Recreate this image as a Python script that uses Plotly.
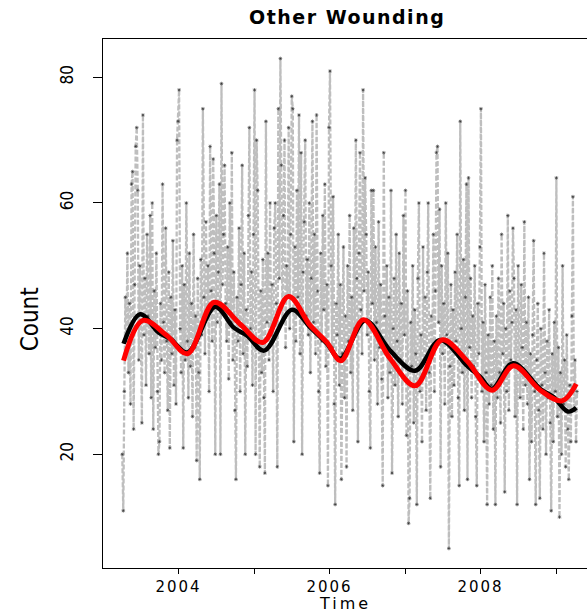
import plotly.graph_objects as go

# Daily-style count series, sampled every 5 days from early April 2003
start_year = 2003.255
days_between = 5
counts = [
    20, 11, 30, 45, 38, 52, 33, 44, 28, 63, 65, 24, 47, 69, 72, 62, 35, 50, 41, 25,
    74, 39, 48, 31, 55, 42, 36, 58, 29, 60, 24, 46, 37, 52, 30, 20, 22, 44, 35, 63,
    41, 33, 56, 38, 27, 49, 21, 45, 36, 54, 31, 43, 28, 70, 73, 78, 40, 33, 50, 21,
    47, 35, 60, 38, 29, 52, 34, 44, 26, 55, 37, 42, 19, 48, 33, 16, 51, 39, 75, 45,
    36, 57, 42, 50, 30, 69, 46, 38, 67, 52, 20, 58, 41, 49, 63, 20, 79, 47, 55, 66,
    44, 38, 53, 32, 60, 41, 68, 35, 49, 27, 16, 45, 38, 56, 30, 47, 66, 36, 52, 20,
    43, 34, 58, 72, 40, 49, 31, 55, 78, 20, 70, 62, 38, 18, 46, 33, 51, 29, 17, 73,
    41, 52, 35, 60, 39, 47, 30, 56, 60, 44, 18, 75, 48, 83, 66, 41, 58, 70, 37, 50,
    45, 72, 40, 55, 77, 75, 22, 53, 38, 62, 45, 74, 36, 68, 20, 49, 57, 70, 42, 51,
    39, 60, 33, 48, 73, 41, 55, 36, 74, 46, 30, 17, 52, 38, 58, 43, 63, 34, 47, 15,
    72, 81, 50, 37, 61, 28, 12, 44, 39, 55, 31, 47, 16, 36, 53, 29, 42, 18, 50, 38,
    58, 33, 45, 27, 56, 40, 70, 48, 22, 52, 68, 43, 36, 78, 46, 64, 55, 39, 49, 30,
    21, 62, 44, 62, 35, 53, 41, 28, 57, 37, 47, 32, 15, 68, 42, 36, 50, 29, 45, 33,
    62, 17, 40, 48, 31, 55, 38, 26, 52, 35, 44, 28, 58, 39, 62, 23, 46, 9, 13, 41,
    34, 50, 25, 43, 36, 12, 48, 60, 30, 39, 22, 53, 35, 45, 27, 49, 60, 33, 13, 42,
    37, 55, 30, 46, 68, 69, 41, 59, 18, 50, 36, 44, 28, 60, 39, 52, 5, 34, 47, 26,
    43, 31, 49, 38, 55, 29, 15, 73, 40, 33, 51, 27, 45, 63, 16, 64, 37, 48, 29, 42,
    34, 50, 26, 15, 44, 36, 53, 75, 30, 41, 22, 47, 33, 12, 39, 28, 45, 31, 50, 24,
    38, 12, 42, 29, 48, 33, 25, 55, 36, 44, 14, 40, 30, 58, 27, 46, 35, 41, 56, 48,
    26, 43, 12, 50, 34, 29, 47, 37, 24, 57, 31, 41, 28, 45, 16, 36, 22, 39, 54, 30,
    12, 35, 44, 27, 13, 40, 31, 24, 52, 33, 20, 38, 29, 43, 25, 11, 36, 22, 41, 30,
    64, 26, 37, 10, 33, 20, 50, 28, 35, 18, 39, 24, 16, 31, 22, 42, 61, 27, 35, 22, 30,
]
obs_years = [start_year + i * days_between / 365.25 for i in range(len(counts))]

# Smoothed trend (black) and fitted seasonal model (red)
trend_years = [2003.272, 2003.493, 2003.735, 2003.890, 2004.119, 2004.486, 2004.728,
               2004.906, 2005.135, 2005.502, 2005.744, 2005.966, 2006.142, 2006.473,
               2006.804, 2007.135, 2007.466, 2007.820, 2007.996, 2008.151, 2008.429,
               2008.791, 2008.967, 2009.158, 2009.268]
trend_vals = [37.6, 42.3, 39.4, 38.4, 36.2, 43.5, 40.2, 38.9, 36.5, 43.0, 40.2, 37.6,
              35.2, 41.3, 36.5, 33.3, 38.2, 34.1, 32.3, 30.4, 34.5, 30.4, 29.1, 26.8, 27.4]

fit_years = [2003.272, 2003.529, 2003.846, 2004.119, 2004.473, 2004.817, 2005.118,
             2005.457, 2005.744, 2005.966, 2006.151, 2006.450, 2006.804, 2007.135,
             2007.489, 2007.820, 2008.151, 2008.437, 2008.791, 2009.079, 2009.268]
fit_vals = [34.9, 41.3, 38.9, 36.0, 44.2, 40.7, 37.8, 45.1, 40.5, 37.8, 34.9, 41.4,
            35.2, 30.9, 38.2, 34.9, 30.2, 34.1, 30.2, 28.5, 31.2]

year_ticks = [2004, 2005, 2006, 2007, 2008, 2009]
year_labels = ["2004", "", "2006", "", "2008", ""]
count_ticks = [20, 40, 60, 80]

wide = "DejaVu Sans, Verdana, sans-serif"
narrow = "Liberation Sans Narrow, DejaVu Sans Condensed, Roboto Condensed, sans-serif"

fig = go.Figure()
fig.add_trace(go.Scatter(
    x=obs_years, y=counts, mode="lines+markers",
    line=dict(color="#bebebe", width=2.3, dash="5px,2px"),
    marker=dict(symbol="asterisk-open", size=3, color="#333333",
                line=dict(color="#333333", width=0.6)),
    hoverinfo="skip",
))
fig.add_trace(go.Scatter(
    x=trend_years, y=trend_vals, mode="lines",
    line=dict(color="black", width=4.5, shape="spline", smoothing=1.0),
))
fig.add_trace(go.Scatter(
    x=fit_years, y=fit_vals, mode="lines",
    line=dict(color="#ff0000", width=5, shape="spline", smoothing=1.0),
))

fig.update_layout(
    width=587, height=612,
    margin=dict(l=103, r=0, t=39, b=44),
    paper_bgcolor="white", plot_bgcolor="white",
    showlegend=False,
    xaxis=dict(
        range=[2003.0, 2009.41], showgrid=False, zeroline=False,
        showline=True, linecolor="black", linewidth=1.2, mirror=True,
        ticks="outside", ticklen=5, tickcolor="black", tickwidth=1.2,
        tickvals=year_ticks, ticklabelstandoff=0,
        ticktext=[f'<span style="letter-spacing:2px">{t}</span>' if t else "" for t in year_labels],
        tickfont=dict(family=wide, size=15, color="black"),
    ),
    yaxis=dict(
        range=[1.9, 86.1], showgrid=False, zeroline=False,
        showline=True, linecolor="black", linewidth=1.2,
        ticks="outside", ticklen=9, tickcolor="black", tickwidth=1.2,
        tickvals=count_ticks, tickangle=-90, ticklabelstandoff=13,
        tickfont=dict(family=narrow, size=17, color="black"),
    ),
    annotations=[
        dict(text='<b><span style="letter-spacing:1.5px">Other Wounding</span></b>',
             xref="paper", yref="paper", x=0.505, y=1, yshift=22, yanchor="middle",
             showarrow=False, font=dict(family=wide, size=19, color="black")),
        dict(text='<span style="letter-spacing:3px">Time</span>',
             xref="paper", yref="paper", x=0.5, y=0, yshift=-35, yanchor="middle",
             showarrow=False, font=dict(family=wide, size=16, color="black")),
        dict(text="Count", textangle=-90,
             xref="paper", yref="paper", x=0, xshift=-89, y=0.47,
             showarrow=False, font=dict(family=narrow, size=24, color="black")),
    ],
)

fig.write_html("out.html")
